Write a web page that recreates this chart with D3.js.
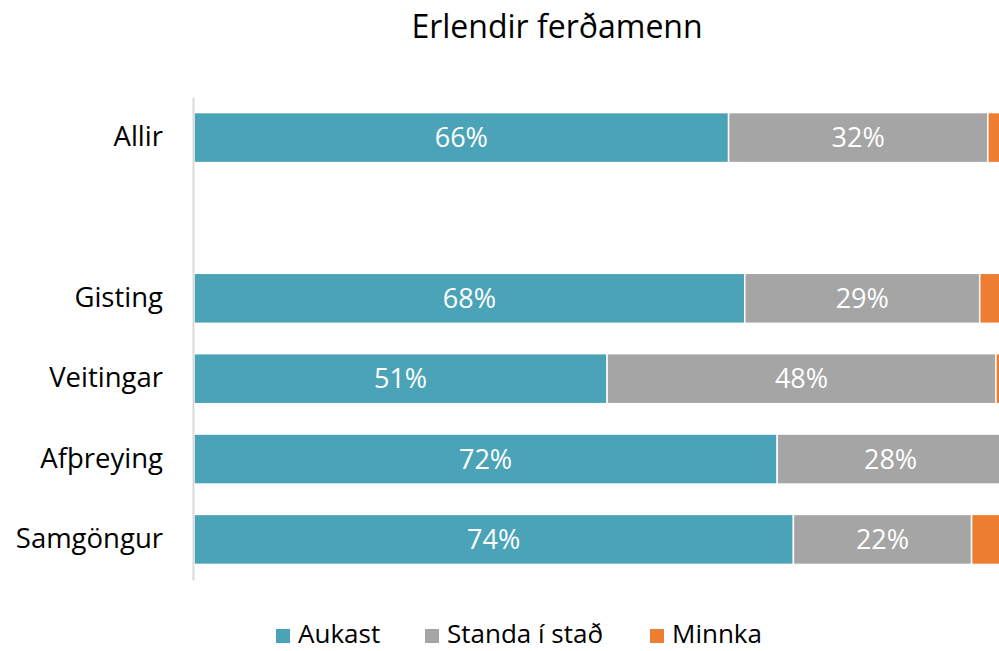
<!DOCTYPE html>
<html><head><meta charset="utf-8">
<script src="https://cdn.jsdelivr.net/npm/d3@7"></script>
<style>body{margin:0;background:#fff;}svg{display:block;font-family:"Open Sans",sans-serif;}</style>
</head><body>
<svg id="chart" width="999" height="651"></svg>
<script>
const title = "Erlendir ferðamenn";
const categories = ["Allir", "", "Gisting", "Veitingar", "Afþreying", "Samgöngur"];
const seriesNames = ["Aukast", "Standa í stað", "Minnka"];
const aukast = [66, null, 68, 51, 72, 74];
const standa = [32, null, 29, 48, 28, 22];
const minnka = [2, null, 3, 1, 0, 4];
const colors = ["#4BA3B8", "#A5A5A5", "#ED7D31"];

const svg = d3.select("#chart");
const x = d3.scaleLinear().domain([0, 100]).range([194, 1004]);
const y = d3.scaleBand().domain(categories.map((c,i)=>i)).range([97, 580]).paddingInner(0.39).paddingOuter(0.2);

svg.append("text").attr("x", 557).attr("y", 38).attr("text-anchor","middle")
  .attr("font-size", 32).attr("fill","#000").text(title);

const rows = categories.map((c,i)=>({i, cat:c, vals:[aukast[i], standa[i], minnka[i]]}));
const stack = d3.stack().keys([0,1,2]).value((d,k)=>d.vals[k] || 0);
const stacked = stack(rows.filter(r=>r.vals[0]!==null));

const g = svg.append("g");
stacked.forEach((layer, k) => {
  g.selectAll(null).data(layer).enter().append("rect")
    .attr("x", d=>x(d[0]))
    .attr("y", d=>y(d.data.i) - 0.5)
    .attr("width", d=>Math.max(0, x(d[1])-x(d[0])))
    .attr("height", y.bandwidth() + 1)
    .attr("fill", colors[k])
    .attr("stroke", "#fff").attr("stroke-width", 1.5);
  if (k < 2) {
    g.selectAll(null).data(layer).enter().append("text")
      .attr("x", d=>(x(d[0])+x(d[1]))/2)
      .attr("y", d=>y(d.data.i)+y.bandwidth()/2)
      .attr("dy","0.36em").attr("text-anchor","middle")
      .attr("font-size", 27).attr("fill","#fff")
      .text(d=>(d[1]-d[0])+"%");
  }
});

// axis
const axis = d3.axisLeft(y).tickSize(0).tickPadding(30).tickFormat(i=>categories[i]);
const ax = svg.append("g").attr("transform","translate(193,0)").call(axis);
ax.select(".domain").attr("stroke","#d9d9d9").attr("stroke-width",2);
ax.selectAll("text").attr("font-size",27.5).attr("fill","#000").attr("font-family","'Open Sans',sans-serif");

// legend
const legX = [276, 425, 650];
const leg = svg.append("g");
seriesNames.forEach((n,k)=>{
  leg.append("rect").attr("x",legX[k]).attr("y",629).attr("width",14).attr("height",14).attr("fill",colors[k]);
  leg.append("text").attr("x",legX[k]+22).attr("y",634).attr("dy","0.36em").attr("font-size",26).attr("fill","#000").text(n);
});
</script>
</body></html>
